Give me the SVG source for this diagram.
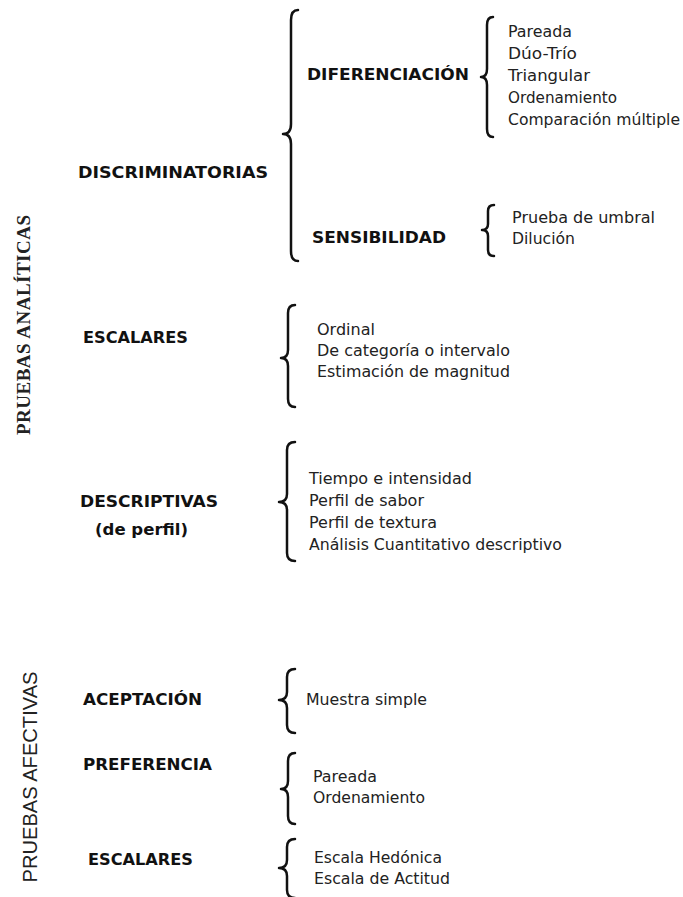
<svg xmlns="http://www.w3.org/2000/svg" width="683" height="897" viewBox="0 0 683 897">
<style>
.b{font-family:"DejaVu Sans","Liberation Sans",sans-serif;font-weight:bold;font-size:16px;fill:#111}
.t{font-family:"DejaVu Sans","Liberation Sans",sans-serif;font-size:15px;fill:#222}
.br{fill:none;stroke:#111;stroke-width:2.5;stroke-linecap:round;stroke-linejoin:round}
.vs{font-family:"Liberation Serif","Times New Roman",serif;font-weight:bold;font-size:19px;fill:#222}
.va{font-family:"Liberation Sans",Arial,sans-serif;font-size:20px;fill:#222}
</style>
<rect width="683" height="897" fill="#fff"/>

<g id="connectors">
  <path class="br" d="M298,10 Q291,10 291,20 L291,124 Q291,134 283,134 Q291,134 291,144 L291,251 Q291,261 298,261"/>
  <path class="br" d="M493,17 Q487,17 487,25 L487,69 Q487,77 481,77 Q487,77 487,85 L487,129 Q487,137 493,137"/>
  <path class="br" d="M494,205 Q488,205 488,211 L488,224 Q488,230 482,230 Q488,230 488,236 L488,250 Q488,256 494,256"/>
  <path class="br" d="M295,305 Q288,305 288,313 L288,350 Q288,358 281,358 Q288,358 288,366 L288,399 Q288,407 295,407"/>
  <path class="br" d="M295,442 Q287,442 287,450 L287,494 Q287,502 279,502 Q287,502 287,510 L287,553 Q287,561 295,561"/>
  <path class="br" d="M295,669 Q287,669 287,677 L287,692 Q287,700 279,700 Q287,700 287,708 L287,725 Q287,733 295,733"/>
  <path class="br" d="M295,753 Q288,753 288,761 L288,781 Q288,789 281,789 Q288,789 288,797 L288,816 Q288,824 295,824"/>
  <path class="br" d="M295,839 Q287,839 287,847 L287,860 Q287,868 279,868 Q287,868 287,876 L287,890 Q287,898 295,898"/>
</g>

<g id="pruebas-analiticas">
  <text class="vs" transform="translate(30,325) rotate(-90)" text-anchor="middle" textLength="220" lengthAdjust="spacing">PRUEBAS ANALÍTICAS</text>
</g>
<g id="pruebas-afectivas">
  <text class="va" transform="translate(37,777) rotate(-90)" text-anchor="middle" textLength="211" lengthAdjust="spacingAndGlyphs">PRUEBAS AFECTIVAS</text>
</g>

<g id="discriminatorias">
  <text class="b" x="78" y="178" textLength="190" lengthAdjust="spacingAndGlyphs">DISCRIMINATORIAS</text>
</g>
<g id="diferenciacion">
  <text class="b" x="307" y="80" textLength="162" lengthAdjust="spacingAndGlyphs">DIFERENCIACIÓN</text>
</g>
<g id="diferenciacion-items">
  <text class="t" x="508" y="37" textLength="64" lengthAdjust="spacingAndGlyphs">Pareada</text>
  <text class="t" x="508" y="59" textLength="69" lengthAdjust="spacingAndGlyphs">Dúo-Trío</text>
  <text class="t" x="508" y="81" textLength="82" lengthAdjust="spacingAndGlyphs">Triangular</text>
  <text class="t" x="508" y="103" textLength="109" lengthAdjust="spacingAndGlyphs">Ordenamiento</text>
  <text class="t" x="508" y="125" textLength="172" lengthAdjust="spacingAndGlyphs">Comparación múltiple</text>
</g>
<g id="sensibilidad">
  <text class="b" x="312" y="243" textLength="134" lengthAdjust="spacingAndGlyphs">SENSIBILIDAD</text>
</g>
<g id="sensibilidad-items">
  <text class="t" x="512" y="223" textLength="143" lengthAdjust="spacingAndGlyphs">Prueba de umbral</text>
  <text class="t" x="512" y="244" textLength="63" lengthAdjust="spacingAndGlyphs">Dilución</text>
</g>

<g id="escalares-analiticas">
  <text class="b" x="83" y="343" textLength="105" lengthAdjust="spacingAndGlyphs">ESCALARES</text>
</g>
<g id="escalares-analiticas-items">
  <text class="t" x="317" y="335" textLength="58" lengthAdjust="spacingAndGlyphs">Ordinal</text>
  <text class="t" x="317" y="356" textLength="193" lengthAdjust="spacingAndGlyphs">De categoría o intervalo</text>
  <text class="t" x="317" y="377" textLength="193" lengthAdjust="spacingAndGlyphs">Estimación de magnitud</text>
</g>

<g id="descriptivas">
  <text class="b" x="80" y="507" textLength="138" lengthAdjust="spacingAndGlyphs">DESCRIPTIVAS</text>
  <text class="b" x="95" y="535" textLength="93" lengthAdjust="spacingAndGlyphs">(de perfil)</text>
</g>
<g id="descriptivas-items">
  <text class="t" x="309" y="484" textLength="163" lengthAdjust="spacingAndGlyphs">Tiempo e intensidad</text>
  <text class="t" x="309" y="506" textLength="115" lengthAdjust="spacingAndGlyphs">Perfil de sabor</text>
  <text class="t" x="309" y="528" textLength="128" lengthAdjust="spacingAndGlyphs">Perfil de textura</text>
  <text class="t" x="309" y="550" textLength="253" lengthAdjust="spacingAndGlyphs">Análisis Cuantitativo descriptivo</text>
</g>

<g id="aceptacion">
  <text class="b" x="83" y="705" textLength="119" lengthAdjust="spacingAndGlyphs">ACEPTACIÓN</text>
</g>
<g id="aceptacion-items">
  <text class="t" x="306" y="705" textLength="121" lengthAdjust="spacingAndGlyphs">Muestra simple</text>
</g>

<g id="preferencia">
  <text class="b" x="83" y="770" textLength="129" lengthAdjust="spacingAndGlyphs">PREFERENCIA</text>
</g>
<g id="preferencia-items">
  <text class="t" x="313" y="782" textLength="64" lengthAdjust="spacingAndGlyphs">Pareada</text>
  <text class="t" x="313" y="803" textLength="112" lengthAdjust="spacingAndGlyphs">Ordenamiento</text>
</g>

<g id="escalares-afectivas">
  <text class="b" x="88" y="865" textLength="105" lengthAdjust="spacingAndGlyphs">ESCALARES</text>
</g>
<g id="escalares-afectivas-items">
  <text class="t" x="314" y="863" textLength="128" lengthAdjust="spacingAndGlyphs">Escala Hedónica</text>
  <text class="t" x="314" y="884" textLength="136" lengthAdjust="spacingAndGlyphs">Escala de Actitud</text>
</g>
</svg>
